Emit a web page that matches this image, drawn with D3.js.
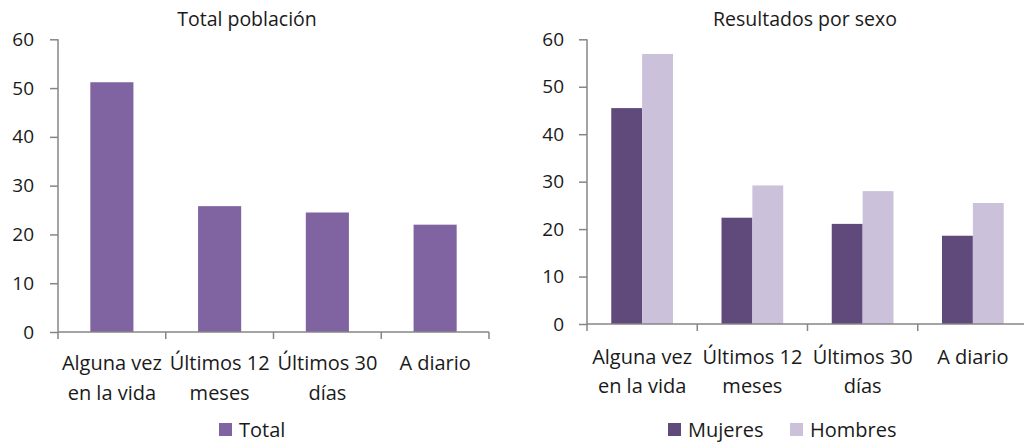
<!DOCTYPE html>
<html lang="es">
<head>
<meta charset="utf-8">
<title>Consumo - total y por sexo</title>
<script src="https://cdn.jsdelivr.net/npm/d3@7"></script>
<style>
  body { margin: 0; background: #fff; }
  svg text { font-family: "Open Sans", sans-serif; fill: #1a1a1a; }
</style>
</head>
<body>
<script>

// categories and values
var categories = [["Alguna vez", "en la vida"], ["Últimos 12", "meses"], ["Últimos 30", "días"], ["A diario"]];
var yTicks = [0, 10, 20, 30, 40, 50, 60];

var totalValues = [51.2, 25.8, 24.5, 22.0];
var mujeresValues = [45.5, 22.4, 21.1, 18.6];
var hombresValues = [56.9, 29.2, 28.0, 25.5];

var svg = d3.select("body").append("svg")
  .attr("width", 1024)
  .attr("height", 444);

var axisColor = "#868686";
var fontSize = "20px";

function drawChart(opt) {
  var keys = categories.map(function(c) { return c.join(" "); });

  var x0 = d3.scaleBand().domain(keys).range([opt.left, opt.right]).padding(0);
  var y = d3.scaleLinear().domain([0, 60]).range([opt.bottom, opt.top]);
  var x1 = d3.scaleBand().domain(opt.series.map(function(s) { return s.name; }))
    .range([x0.bandwidth() * opt.groupStart, x0.bandwidth() * (1 - opt.groupStart)])
    .padding(0);

  var g = svg.append("g");

  // title
  g.append("text")
    .attr("x", opt.titleX)
    .attr("y", 26)
    .attr("text-anchor", "middle")
    .attr("font-size", "19.5px")
    .text(opt.title);

  // bars
  opt.series.forEach(function(s) {
    g.selectAll(null)
      .data(s.values)
      .enter().append("rect")
      .attr("x", function(d, i) { return x0(keys[i]) + x1(s.name); })
      .attr("y", function(d) { return y(d); })
      .attr("width", x1.bandwidth())
      .attr("height", function(d) { return y(0) - y(d); })
      .attr("fill", s.color);
  });

  // y axis
  var yAxis = g.append("g")
    .attr("transform", "translate(" + opt.left + ",0)")
    .call(d3.axisLeft(y).tickValues(yTicks).tickSize(8).tickPadding(opt.tickPad));
  yAxis.select(".domain").attr("stroke", axisColor).attr("stroke-width", 1.5)
    .attr("d", "M0," + opt.top + "V" + opt.bottom);
  yAxis.selectAll(".tick line").attr("stroke", axisColor).attr("stroke-width", 1.5);
  yAxis.selectAll(".tick text").attr("font-size", "19px").attr("fill", "#1a1a1a")
    .attr("font-family", "'Open Sans', sans-serif");

  // x axis line with ticks between categories
  g.append("line")
    .attr("x1", opt.left).attr("x2", opt.right)
    .attr("y1", y(0)).attr("y2", y(0))
    .attr("stroke", axisColor).attr("stroke-width", 1.5);

  var bounds = keys.map(function(k) { return x0(k); }).concat([opt.right]);
  g.selectAll(null)
    .data(bounds)
    .enter().append("line")
    .attr("x1", function(d) { return d; })
    .attr("x2", function(d) { return d; })
    .attr("y1", y(0))
    .attr("y2", y(0) + 7)
    .attr("stroke", axisColor).attr("stroke-width", 1.5);

  // category labels
  var lbl = g.selectAll(null)
    .data(categories)
    .enter().append("text")
    .attr("text-anchor", "middle")
    .attr("font-size", fontSize)
    .attr("transform", function(d, i) {
      return "translate(" + (x0(keys[i]) + x0.bandwidth() / 2) + "," + opt.labelY + ")";
    });
  lbl.selectAll("tspan")
    .data(function(d) { return d; })
    .enter().append("tspan")
    .attr("x", 0)
    .attr("y", function(d, i) { return i * opt.lineH; })
    .text(function(d) { return d; });

  // legend
  opt.series.forEach(function(s, i) {
    var lx = opt.legendX[i];
    g.append("rect")
      .attr("x", lx).attr("y", 423)
      .attr("width", 13).attr("height", 13)
      .attr("fill", s.color);
    g.append("text")
      .attr("x", lx + 20)
      .attr("y", 437)
      .attr("font-size", fontSize)
      .text(s.name);
  });
}

drawChart({
  title: "Total población",
  titleX: 247,
  left: 58, right: 489, top: 39.3, bottom: 332,
  tickPad: 16,
  groupStart: 0.3,
  labelY: 370, lineH: 30,
  legendX: [219],
  series: [{ name: "Total", values: totalValues, color: "#8064A2" }]
});

drawChart({
  title: "Resultados por sexo",
  titleX: 805,
  left: 587, right: 1028, top: 39.3, bottom: 324,
  tickPad: 15,
  groupStart: 0.22,
  labelY: 364, lineH: 29,
  legendX: [668, 790],
  series: [
    { name: "Mujeres", values: mujeresValues, color: "#604A7B" },
    { name: "Hombres", values: hombresValues, color: "#CCC1DA" }
  ]
});

</script>
</body>
</html>
